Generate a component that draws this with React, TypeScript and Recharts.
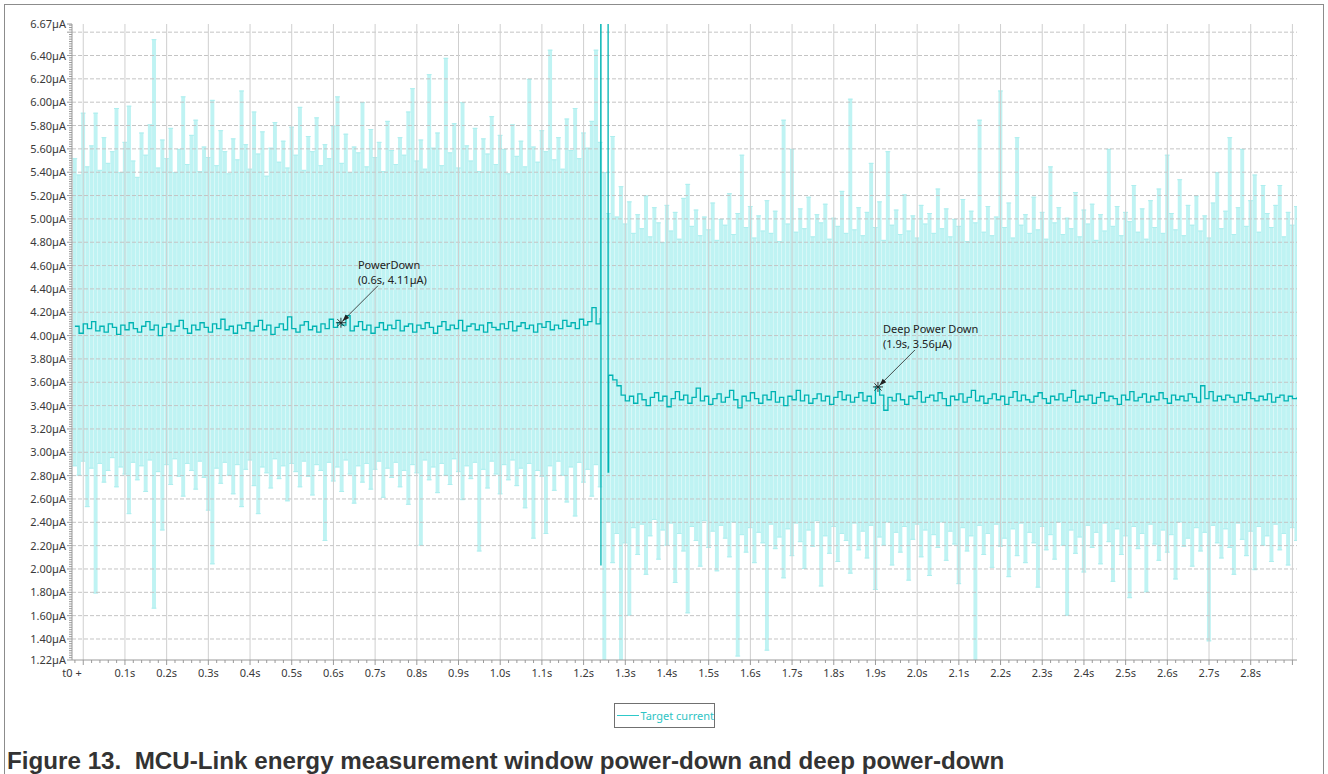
import { Bar, ComposedChart, Line, ReferenceDot, ReferenceLine, XAxis, YAxis } from "recharts"

const FONT = '"Noto Sans", "DejaVu Sans", sans-serif'
const T_MIN = -0.027
const T_MAX = 2.911
const STEP = 0.01

// power-down phase, one sample every 10 ms (µA)
const powerDownStart = -0.02
const powerDownAvg = [
  4.08, 4.02, 4.1, 4.06, 4.12, 4.04, 4.08, 4.03, 4.1, 4.07,
  4.01, 4.09, 4.05, 4.11, 4.06, 4.03, 4.08, 4.12, 4.05, 4.09,
  4.0, 4.07, 4.1, 4.04, 4.08, 4.13, 4.06, 4.02, 4.09, 4.05,
  4.11, 4.07, 4.03, 4.1, 4.06, 4.14, 4.05, 4.08, 4.02, 4.09,
  4.06, 4.11, 4.04, 4.08, 4.13, 4.05, 4.09, 4.01, 4.07, 4.1,
  4.05, 4.16, 4.06, 4.03, 4.09, 4.12, 4.05, 4.08, 4.03, 4.1,
  4.06, 4.14, 4.07, 4.11, 4.09, 4.17, 4.04, 4.08, 4.12, 4.05,
  4.09, 4.02, 4.07, 4.11, 4.05, 4.09, 4.06, 4.13, 4.04, 4.08,
  4.1, 4.03, 4.09, 4.06, 4.11, 4.07, 4.02, 4.08, 4.12, 4.05,
  4.09, 4.06, 4.13, 4.04, 4.08, 4.1, 4.05, 4.09, 4.03, 4.11,
  4.07, 4.05, 4.1, 4.06, 4.12, 4.04, 4.08, 4.11, 4.06, 4.09,
  4.03, 4.1, 4.07, 4.12, 4.05, 4.09, 4.06, 4.13, 4.08, 4.11,
  4.06, 4.14, 4.09, 4.12, 4.24, 4.1, 4.15,
]
const powerDownMax = [
  5.52, 5.38, 5.91, 5.45, 5.63, 5.91, 5.42, 5.7, 5.48, 5.58,
  5.95, 5.4, 5.66, 5.97, 5.5, 5.36, 5.74, 5.55, 5.81, 6.54,
  5.44, 5.68, 5.52, 5.78, 5.4, 5.6, 6.05, 5.47, 5.72, 5.85,
  5.41, 5.62, 5.53, 6.02, 5.46, 5.76, 5.58, 5.39, 5.69, 5.51,
  6.1, 5.64, 5.43, 5.92, 5.56, 5.75, 5.37, 5.61, 5.83, 5.49,
  5.67, 5.44, 5.79, 5.55, 5.96, 5.42, 5.71, 5.58, 5.87, 5.46,
  5.64, 5.52, 5.8, 6.05, 5.48, 5.73, 5.4, 5.62, 5.57, 6.0,
  5.45, 5.77, 5.53, 5.66, 5.41, 5.84, 5.59, 5.47, 5.7, 5.55,
  5.92, 6.12, 5.5, 5.68, 5.43, 6.24, 5.61, 5.74, 5.46, 6.38,
  5.57, 5.82, 5.44, 6.0, 5.63, 5.5, 5.78, 5.41, 5.69, 5.56,
  5.88, 5.47, 5.72, 5.6, 5.39, 5.81, 5.54, 5.67, 5.45, 6.2,
  5.62, 5.49, 5.76, 5.58, 6.45, 5.51, 5.7, 5.43, 5.86, 5.59,
  5.95, 5.52, 5.74, 5.61, 5.84, 6.45, 5.66,
]
const powerDownMin = [
  2.88, 2.8, 2.92, 2.53, 2.86, 1.79, 2.9, 2.74, 2.84, 2.95,
  2.7, 2.87, 2.81, 2.47, 2.91, 2.76, 2.88, 2.66, 2.93, 1.66,
  2.83, 2.33, 2.89, 2.72, 2.94, 2.79, 2.62, 2.9, 2.84, 2.68,
  2.92, 2.78, 2.5, 2.04, 2.86, 2.73, 2.91, 2.8, 2.64, 2.89,
  2.53, 2.85, 2.93, 2.71, 2.47, 2.87, 2.82, 2.69, 2.94, 2.77,
  2.88, 2.58, 2.9, 2.83, 2.7, 2.92, 2.79, 2.63, 2.89, 2.84,
  2.24, 2.91, 2.75, 2.87, 2.66, 2.93, 2.81, 2.56, 2.88, 2.74,
  2.9, 2.68, 2.85, 2.92, 2.61, 2.86, 2.78, 2.91, 2.7, 2.84,
  2.55, 2.89, 2.82, 2.2, 2.93, 2.76, 2.87, 2.65, 2.9, 2.8,
  2.72, 2.94, 2.83, 2.59, 2.88, 2.77, 2.91, 2.15, 2.85, 2.69,
  2.92, 2.81, 2.64, 2.89, 2.76, 2.93, 2.71, 2.86, 2.52, 2.9,
  2.26, 2.84, 2.79, 2.3, 2.88, 2.67, 2.92, 2.8, 2.57, 2.87,
  2.45, 2.91, 2.74, 2.85, 2.62, 2.89, 2.7,
]

// sample taken during the mode switch
const switchTime = 1.25
const switchMin = 1.1
const switchMax = 5.4

// deep power-down phase
const deepStart = 1.26
const deepAvg = [
  3.66, 3.62, 3.57, 3.49, 3.44, 3.48, 3.42, 3.5, 3.45, 3.4,
  3.47, 3.51, 3.44, 3.48, 3.39, 3.46, 3.52, 3.45, 3.49, 3.42,
  3.47, 3.55, 3.44, 3.48, 3.41, 3.46, 3.5, 3.43, 3.47, 3.53,
  3.45, 3.38, 3.48, 3.44, 3.51, 3.46, 3.42, 3.49, 3.45, 3.52,
  3.43, 3.47, 3.4, 3.48, 3.45, 3.53, 3.44, 3.49, 3.42, 3.46,
  3.5, 3.44, 3.48, 3.41, 3.47, 3.52, 3.45, 3.49, 3.43, 3.47,
  3.51, 3.44, 3.48, 3.42, 3.56, 3.49, 3.36, 3.47, 3.44, 3.5,
  3.45, 3.41, 3.48, 3.46, 3.52, 3.43, 3.47, 3.49, 3.44, 3.51,
  3.46, 3.4, 3.48, 3.45, 3.5, 3.43, 3.47, 3.53, 3.44, 3.48,
  3.42, 3.46, 3.5, 3.45, 3.48, 3.41, 3.47, 3.52, 3.44, 3.49,
  3.45, 3.43, 3.48, 3.51, 3.46, 3.42, 3.48, 3.45, 3.5, 3.44,
  3.47, 3.53, 3.43, 3.48, 3.45, 3.49, 3.42, 3.47, 3.51, 3.44,
  3.48, 3.46, 3.41, 3.49, 3.45, 3.52, 3.44, 3.47, 3.5, 3.43,
  3.48, 3.45, 3.51, 3.46, 3.42, 3.49, 3.45, 3.48, 3.44, 3.5,
  3.47, 3.43, 3.57, 3.46, 3.52, 3.44, 3.48, 3.45, 3.49, 3.47,
  3.43, 3.49, 3.45, 3.51, 3.46, 3.44, 3.48, 3.45, 3.5, 3.43,
  3.47, 3.49, 3.44, 3.48, 3.46, 3.47,
]
const deepMax = [
  5.05, 5.71, 5.02, 5.28, 4.96, 5.15, 4.88, 5.04, 4.92, 5.2,
  4.85, 5.1, 4.97, 4.8, 5.12, 4.9, 5.06, 4.83, 5.18, 5.3,
  4.94, 5.08, 4.86, 5.02, 4.91, 5.14, 4.82, 5.0, 4.95, 5.22,
  4.87, 5.05, 5.55, 4.93, 5.11, 4.84, 5.03, 4.9, 5.16, 4.88,
  5.07, 4.81, 5.85, 4.96, 5.6, 4.89, 5.09, 4.92, 5.19, 4.85,
  5.04, 4.97, 5.13, 4.83, 5.01, 4.94, 5.24, 4.88, 6.03, 4.91,
  5.1, 4.86, 5.06, 5.48, 4.93, 5.15, 4.82, 5.58, 4.95, 5.08,
  4.87, 5.21, 4.9, 5.03, 4.84, 5.12, 4.96, 5.05, 4.88, 5.26,
  4.92, 5.09, 4.85, 5.0, 4.94, 5.17, 4.81, 5.07, 4.97, 5.85,
  4.89, 5.11, 4.86, 5.02, 6.1, 4.93, 5.14, 4.84, 5.7, 4.95,
  5.04, 4.88, 5.19, 4.91, 5.06, 4.83, 5.45, 4.97, 5.1, 4.87,
  5.01, 4.92, 5.23, 4.85, 5.08, 4.96, 5.13, 4.82, 5.04, 4.9,
  5.6, 4.94, 5.11, 4.86, 5.06, 4.98, 5.29, 4.89, 5.09, 4.83,
  5.16, 4.93, 5.26, 4.88, 5.55, 5.05, 4.91, 5.34, 4.86, 5.12,
  4.95, 5.2, 4.9, 5.03, 4.84, 5.14, 5.4, 4.92, 5.07, 5.7,
  4.87, 5.1, 5.6, 4.94, 5.16, 5.38, 4.89, 5.29, 5.05, 4.93,
  5.12, 5.29, 4.85, 5.06, 4.95, 5.11,
]
const deepMin = [
  2.4, 2.05, 2.3, 1.1, 2.22, 1.6, 2.35, 2.12, 2.38, 1.95,
  2.28, 2.42, 2.08, 2.33, 2.2, 2.39, 1.88, 2.3, 2.15, 1.62,
  2.36, 2.24, 2.02, 2.41, 2.18, 2.32, 1.98, 2.37, 2.26, 2.1,
  2.4, 1.25, 2.29, 2.14, 2.35, 2.05, 2.31, 2.22, 1.3, 2.38,
  2.17, 2.27, 1.92, 2.34, 2.11, 2.39, 2.23, 2.0, 2.33, 2.19,
  2.41, 1.85, 2.28, 2.13, 2.36, 2.06, 2.3, 2.24, 1.96, 2.39,
  2.16, 2.32, 2.09, 2.37, 1.82, 2.27, 2.2, 2.4, 2.03, 2.31,
  2.14, 2.36, 1.9, 2.25, 2.38, 2.1, 2.33, 1.94, 2.29, 2.18,
  2.4, 2.07, 2.32, 2.21, 1.87, 2.35, 2.15, 2.28, 1.2, 2.37,
  2.12, 2.3, 2.01, 2.38, 2.19, 2.26, 1.93, 2.34, 2.11, 2.39,
  2.05, 2.31, 2.22, 1.84, 2.36, 2.16, 2.29, 2.08, 2.4, 2.2,
  1.6, 2.33, 2.13, 2.27, 1.97, 2.37, 2.18, 2.31, 2.04, 2.39,
  2.23, 1.89, 2.34, 2.12, 2.28, 1.75, 2.36, 2.17, 2.3, 1.8,
  2.38, 2.21, 2.07, 2.33, 2.14, 2.29, 1.91, 2.4, 2.19, 2.26,
  2.02, 2.35, 2.15, 2.31, 1.38, 2.37, 2.22, 2.09, 2.34, 2.18,
  1.95, 2.39, 2.25, 2.11, 2.32, 1.99, 2.36, 2.2, 2.28, 2.06,
  2.38, 2.16, 2.3, 2.03, 2.35, 2.24,
]

// the two glitches of the average while switching (run off the top)
const glitchTimes = [1.24, 1.2412, 1.2416, 1.2418, 1.2584, 1.2588, 1.26]
const glitchAvg = [4.15, 9, 2.03, null, 9, 2.83, 3.66]

const yLabelTicks = [
  1.22, 1.4, 1.6, 1.8, 2.0, 2.2, 2.4, 2.6, 2.8, 3.0, 3.2, 3.4, 3.6, 3.8,
  4.0, 4.2, 4.4, 4.6, 4.8, 5.0, 5.2, 5.4, 5.6, 5.8, 6.0, 6.2, 6.4, 6.67,
]
const xLabelTicks = [
  0.1, 0.2, 0.3, 0.4, 0.5, 0.6, 0.7, 0.8, 0.9, 1.0, 1.1, 1.2, 1.3, 1.4,
  1.5, 1.6, 1.7, 1.8, 1.9, 2.0, 2.1, 2.2, 2.3, 2.4, 2.5, 2.6, 2.7, 2.8,
]

const round = (v: number) => Math.round(v * 10000) / 10000

const rows = [
  ...powerDownAvg.map((avg, i) => ({
    t: round(powerDownStart + i * STEP),
    avg,
    range: [powerDownMin[i], powerDownMax[i]],
  })),
  { t: switchTime, avg: null, range: [switchMin, switchMax] },
  ...deepAvg.map((avg, i) => ({
    t: round(deepStart + i * STEP),
    avg,
    range: [deepMin[i], deepMax[i]],
  })),
]

const glitchRows = glitchTimes.map((t, i) => ({ t, avg: glitchAvg[i] }))

// minor ticks every 0.02
const yTicks: number[] = []
for (let v = 122; v <= 666; v += 2) yTicks.push(v / 100)
yTicks.push(6.67)
const xTicks: number[] = [T_MIN]
for (let v = -2; v <= 290; v += 2) xTicks.push(v / 100)

const hGrid = [...yLabelTicks.slice(1, -1), 6.6]
const vGrid = [0, ...xLabelTicks, 2.9]

const near = (a: number, b: number) => Math.abs(a - b) < 1e-6

const YTick = (props: any) => {
  const { x, y, payload } = props
  const v = payload.value
  const label = yLabelTicks.some((l) => near(l, v))
  const major = label || near(v * 5, Math.round(v * 5))
  const axisX = x + 6
  return (
    <g>
      <line x1={axisX - (major ? 5 : 3)} x2={axisX} y1={y} y2={y} stroke="#9a9a9a" />
      {label && (
        <text x={x} y={y} dy={4} textAnchor="end" fontSize={11} fontFamily={FONT} fill="#3a3a3a">
          {`${v.toFixed(2)}µA`}
        </text>
      )}
    </g>
  )
}

const XTick = (props: any) => {
  const { x, y, payload } = props
  const v = payload.value
  const edge = near(v, T_MIN)
  const major = near(v * 10, Math.round(v * 10))
  const label = edge ? "t0 +" : xLabelTicks.some((l) => near(l, v)) ? `${v.toFixed(1)}s` : null
  return (
    <g>
      {!edge && <line x1={x} x2={x} y1={y} y2={y + (major ? 5 : 3)} stroke="#9a9a9a" />}
      {label && (
        <text x={x} y={y + 17} textAnchor="middle" fontSize={11} fontFamily={FONT} fill="#3a3a3a">
          {label}
        </text>
      )}
    </g>
  )
}

const BandBar = (props: any) => {
  const { x, y, width, height } = props
  if (x == null || y == null || !height) return null
  return (
    <g>
      <rect x={x} y={y} width={width} height={height} fill="#bff3f3" />
      <line x1={x - 0.5} x2={x + width + 0.5} y1={y + 0.5} y2={y + 0.5} stroke="#aeeeee" />
      <line x1={x - 0.5} x2={x + width + 0.5} y1={y + height - 0.5} y2={y + height - 0.5} stroke="#aeeeee" />
    </g>
  )
}

const Callout = (props: any) => {
  const { cx, cy, title, value, textDx } = props
  const ink = "#222"
  return (
    <g>
      <line x1={cx + 37} y1={cy - 37} x2={cx + 4} y2={cy - 4} stroke={ink} strokeWidth={0.8} />
      <path d={`M${cx + 1.5},${cy - 1.5} L${cx + 8.3},${cy - 4.7} L${cx + 4.7},${cy - 8.3} Z`} fill={ink} />
      <line x1={cx - 5} x2={cx + 5} y1={cy} y2={cy} stroke={ink} strokeWidth={0.9} />
      <line x1={cx} x2={cx} y1={cy - 5} y2={cy + 5} stroke={ink} strokeWidth={0.9} />
      <line x1={cx - 3.6} x2={cx + 3.6} y1={cy - 3.6} y2={cy + 3.6} stroke={ink} strokeWidth={0.9} />
      <line x1={cx - 3.6} x2={cx + 3.6} y1={cy + 3.6} y2={cy - 3.6} stroke={ink} strokeWidth={0.9} />
      <text x={cx + textDx} y={cy - 54} fontSize={11} fontFamily={FONT} fill={ink}>
        {title}
      </text>
      <text x={cx + textDx} y={cy - 39} fontSize={11} fontFamily={FONT} fill={ink}>
        {value}
      </text>
    </g>
  )
}

export default function App() {
  return (
    <div style={{ position: "absolute", left: 0, top: 0, width: 1328, height: 774, overflow: "hidden", background: "#fff" }}>
      <div
        style={{
          position: "absolute",
          left: 4,
          top: 4,
          width: 1320,
          height: 820,
          border: "1px solid #8c8c8c",
          boxSizing: "border-box",
        }}
      />
      <div style={{ position: "absolute", left: 4, top: 4 }}>
        <ComposedChart width={1320} height={686} data={rows} margin={{ top: 20, right: 27, bottom: 0, left: 0 }}>
          <XAxis
            dataKey="t"
            type="number"
            domain={[T_MIN, T_MAX]}
            allowDataOverflow
            ticks={xTicks}
            interval={0}
            tickLine={false}
            tickSize={0}
            tickMargin={0}
            height={30}
            axisLine={{ stroke: "#9a9a9a" }}
            tick={(p: any) => <XTick {...p} />}
          />
          <XAxis xAxisId="glitch" dataKey="t" type="number" domain={[T_MIN, T_MAX]} allowDataOverflow hide />
          <YAxis
            type="number"
            domain={[1.22, 6.67]}
            allowDataOverflow
            ticks={yTicks}
            interval={0}
            tickLine={false}
            tickSize={5}
            tickMargin={1}
            width={68}
            axisLine={{ stroke: "#9a9a9a" }}
            tick={(p: any) => <YTick {...p} />}
          />
          <Bar dataKey="range" barSize={3.9} shape={(p: any) => <BandBar {...p} />} isAnimationActive={false} />
          {hGrid.map((v) => (
            <ReferenceLine key={`h${v}`} y={v} stroke="#c4c4c4" strokeDasharray="4 2" zIndex={350} />
          ))}
          {vGrid.map((v) => (
            <ReferenceLine key={`v${v}`} x={v} stroke="#cfcfcf" zIndex={350} />
          ))}
          <Line
            dataKey="avg"
            type="stepAfter"
            stroke="#00b3b3"
            strokeWidth={1.3}
            dot={false}
            connectNulls={false}
            isAnimationActive={false}
          />
          <Line
            xAxisId="glitch"
            data={glitchRows}
            dataKey="avg"
            type="stepAfter"
            stroke="#00b3b3"
            strokeWidth={1.3}
            dot={false}
            connectNulls={false}
            isAnimationActive={false}
          />
          <ReferenceDot
            x={0.618}
            y={4.11}
            r={0}
            shape={(p: any) => <Callout {...p} title="PowerDown" value="(0.6s, 4.11µA)" textDx={17} />}
          />
          <ReferenceDot
            x={1.906}
            y={3.56}
            r={0}
            shape={(p: any) => <Callout {...p} title="Deep Power Down" value="(1.9s, 3.56µA)" textDx={5} />}
          />
        </ComposedChart>
      </div>
      <div
        style={{
          position: "absolute",
          left: 614,
          top: 703,
          width: 101,
          height: 25,
          border: "1px solid #707070",
          boxSizing: "border-box",
          display: "flex",
          alignItems: "center",
          fontFamily: FONT,
          fontSize: 11,
          color: "#2ec4c4",
        }}
      >
        <div style={{ width: 24, height: 1, background: "#2ec9c9", marginLeft: 2 }} />
        <span style={{ marginLeft: 1, whiteSpace: "nowrap" }}>Target current</span>
      </div>
      <div
        style={{
          position: "absolute",
          left: 7,
          top: 749,
          fontFamily: '"Liberation Sans", Arial, sans-serif',
          fontWeight: "bold",
          fontSize: 24.2,
          lineHeight: "24px",
          color: "#333",
          whiteSpace: "pre",
        }}
      >
        {"Figure 13.  MCU-Link energy measurement window power-down and deep power-down"}
      </div>
    </div>
  )
}
